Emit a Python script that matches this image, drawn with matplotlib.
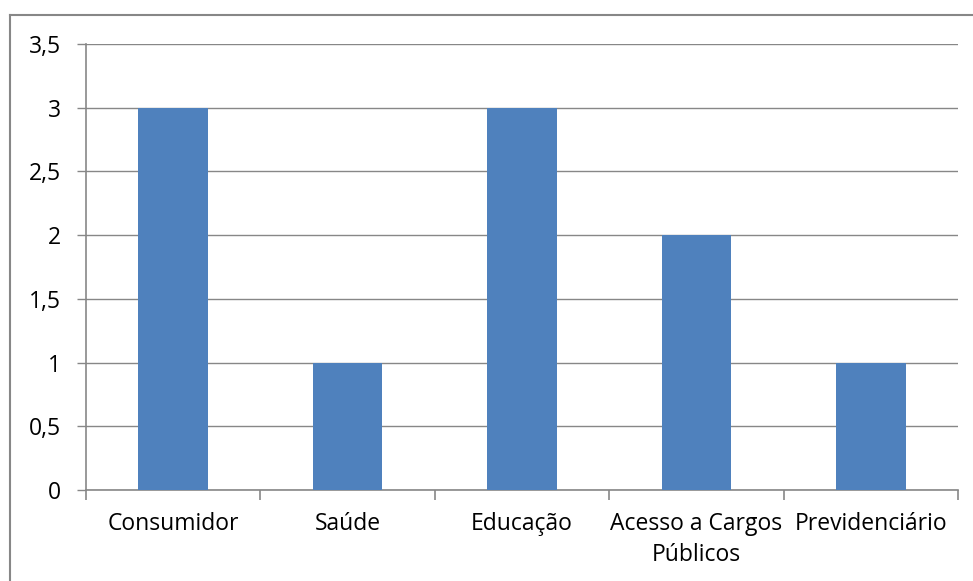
import matplotlib.pyplot as plt
from matplotlib.lines import Line2D

categories = ['Consumidor', 'Saúde', 'Educação', 'Acesso a Cargos\nPúblicos', 'Previdenciário']
values = [3, 1, 3, 2, 1]
y_ticks = [0, 0.5, 1, 1.5, 2, 2.5, 3, 3.5]
y_labels = ['0', '0,5', '1', '1,5', '2', '2,5', '3', '3,5']

plt.rcParams['font.family'] = ['Open Sans', 'DejaVu Sans']

W, H = 973, 581
fig = plt.figure(figsize=(W / 100, H / 100), dpi=100)
ax = fig.add_axes([86 / W, 1 - 490 / H, (958 - 86) / W, (490 - 44) / H])

grid_c = '#878787'
x = range(len(categories))
ax.bar(x, values, width=0.4, color='#4F81BD', zorder=3)

fs = 16.5
ax.set_xlim(-0.5, len(categories) - 0.5)
ax.set_ylim(0, 3.5)
ax.set_yticks(y_ticks)
ax.set_yticklabels(y_labels, fontsize=fs)
ax.yaxis.grid(True, color=grid_c, linewidth=1, zorder=0)

ax.set_xticks([i - 0.5 for i in range(len(categories) + 1)])
ax.set_xticklabels([])
ax.set_xticks(list(x), minor=True)
ax.set_xticklabels(categories, minor=True, fontsize=fs, linespacing=1.4, va='top')
ax.tick_params(axis='x', which='minor', length=0, pad=15.5)
ax.tick_params(axis='x', which='major', length=7, color=grid_c, width=1.2)
ax.tick_params(axis='y', length=6.5, color=grid_c, width=1, pad=11.5)

for s in ['top', 'right']:
    ax.spines[s].set_visible(False)
for s in ['left', 'bottom']:
    ax.spines[s].set_color(grid_c)
    ax.spines[s].set_linewidth(1.2)

# chart area border (only top and left visible)
fig.add_artist(Line2D([10 / W, 10 / W], [0, 1 - 15 / H], transform=fig.transFigure,
                      color=grid_c, linewidth=1.5))
fig.add_artist(Line2D([10 / W, 1], [1 - 15 / H, 1 - 15 / H], transform=fig.transFigure,
                      color=grid_c, linewidth=1.5))

fig.savefig('out.png', dpi=100)
